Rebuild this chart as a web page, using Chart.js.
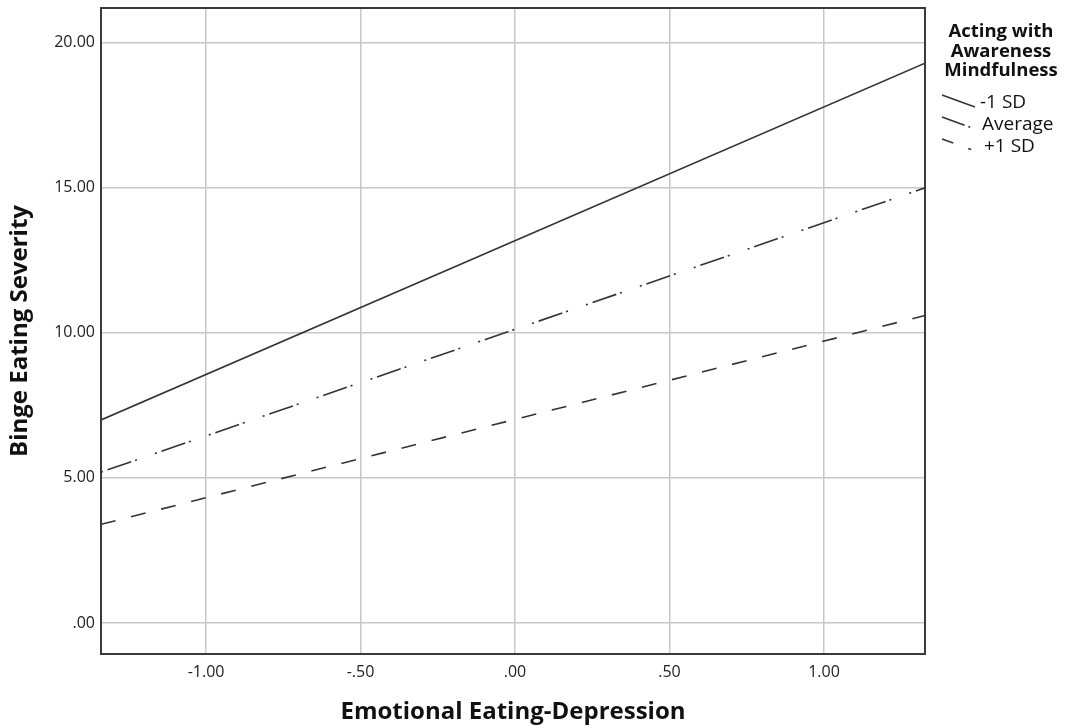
<!DOCTYPE html>
<html>
<head>
<meta charset="utf-8">
<script src="https://cdn.jsdelivr.net/npm/chart.js@4/dist/chart.umd.min.js"></script>
<style>
  html, body { margin: 0; padding: 0; background: #fff; }
  #wrap { width: 1067px; height: 726px; position: relative; }
</style>
</head>
<body>
<div id="wrap"><canvas id="chart"></canvas></div>
<script>
// --- Data ---
const xValues = [-1.34, 1.327];          // Emotional Eating-Depression (line ends)
const lowSD = [7.0, 19.3];               // -1 SD
const average = [5.2, 15.0];             // Average
const highSD = [3.4, 10.6];              // +1 SD
const seriesNames = ['-1 SD', 'Average', '+1 SD'];
const xTicks = [-1, -0.5, 0, 0.5, 1];
const yTicks = [0, 5, 10, 15, 20];
const legendTitle = ['Acting with', 'Awareness', 'Mindfulness'];

const lineColor = '#333';
const dashes = [[], [2, 5, 25, 4, 2, 19], [15, 16]];

// SPSS style numbers: 0 -> .00, -0.5 -> -.50
function fmt(v) {
    let s = Math.abs(v).toFixed(2);
    if (s.startsWith('0')) s = s.slice(1);
    return (v < 0 ? '-' : '') + s;
}

const toPoints = ys => ys.map((y, i) => ({ x: xValues[i], y: y }));

const datasets = [lowSD, average, highSD].map((ys, i) => ({
    label: seriesNames[i],
    data: toPoints(ys),
    borderColor: lineColor,
    borderWidth: 1.6,
    borderDash: dashes[i],
    pointRadius: 0,
    fill: false
}));

// frame around plot + custom legend on the right
const framePlugin = {
    id: 'frame',
    afterDraw(chart) {
        const { ctx, chartArea: a } = chart;
        ctx.save();
        ctx.strokeStyle = '#3a3a3a';
        ctx.lineWidth = 2;
        ctx.strokeRect(a.left, a.top, a.right - a.left, a.bottom - a.top);

        // legend title
        ctx.fillStyle = '#111';
        ctx.font = 'bold 18.5px "Open Sans"';
        ctx.textAlign = 'center';
        ctx.textBaseline = 'middle';
        legendTitle.forEach((t, i) => ctx.fillText(t, 1001, 32 + i * 19.5));

        // legend items
        ctx.font = '19px "Open Sans"';
        ctx.textAlign = 'left';
        const rowY = [103, 125, 147];
        datasets.forEach((ds, i) => {
            const y = rowY[i];
            ctx.strokeStyle = lineColor;
            ctx.lineWidth = 1.6;
            ctx.setLineDash(i === 0 ? [] : (i === 1 ? [24, 4, 2, 40] : [12, 16, 3, 40]));
            ctx.beginPath();
            ctx.moveTo(942, y - 8);
            ctx.lineTo(975, y + 4);
            ctx.stroke();
            ctx.setLineDash([]);
            ctx.fillText(ds.label, 980 + i * 2, y);
        });
        ctx.restore();
    }
};

new Chart(document.getElementById('chart'), {
    type: 'line',
    data: { datasets: datasets },
    options: {
        responsive: true,
        maintainAspectRatio: false,
        animation: false,
        layout: { padding: { top: 0, right: 142, left: 0, bottom: 0 } },
        plugins: {
            legend: { display: false },
            tooltip: { enabled: false }
        },
        scales: {
            x: {
                type: 'linear',
                min: xValues[0],
                max: xValues[1],
                afterBuildTicks: s => { s.ticks = xTicks.map(v => ({ value: v })); },
                afterFit: s => { s.height = 72; },
                grid: { color: '#c8c8c8', lineWidth: 1.5, drawTicks: false },
                border: { display: false },
                ticks: {
                    padding: 9,
                    color: '#222',
                    font: { family: '"Open Sans"', size: 16 },
                    maxRotation: 0,
                    callback: v => fmt(v)
                },
                title: {
                    display: true,
                    text: 'Emotional Eating-Depression',
                    color: '#111',
                    font: { family: '"Open Sans"', size: 24, weight: 'bold', lineHeight: 1 },
                    padding: { top: 0, bottom: 2 }
                }
            },
            y: {
                min: -1.07,
                max: 21.2,
                afterBuildTicks: s => { s.ticks = yTicks.map(v => ({ value: v })); },
                afterFit: s => { s.width = 101; },
                grid: { color: '#c8c8c8', lineWidth: 1.5, drawTicks: false },
                border: { display: false },
                ticks: {
                    padding: 6,
                    color: '#222',
                    font: { family: '"Open Sans"', size: 16, lineHeight: 0.25 },
                    callback: v => fmt(v)
                },
                title: {
                    display: true,
                    text: 'Binge Eating Severity',
                    color: '#111',
                    font: { family: '"Open Sans"', size: 24, weight: 'bold', lineHeight: 1 },
                    padding: { top: 8, bottom: 0 }
                }
            }
        }
    },
    plugins: [framePlugin]
});
</script>
</body>
</html>
